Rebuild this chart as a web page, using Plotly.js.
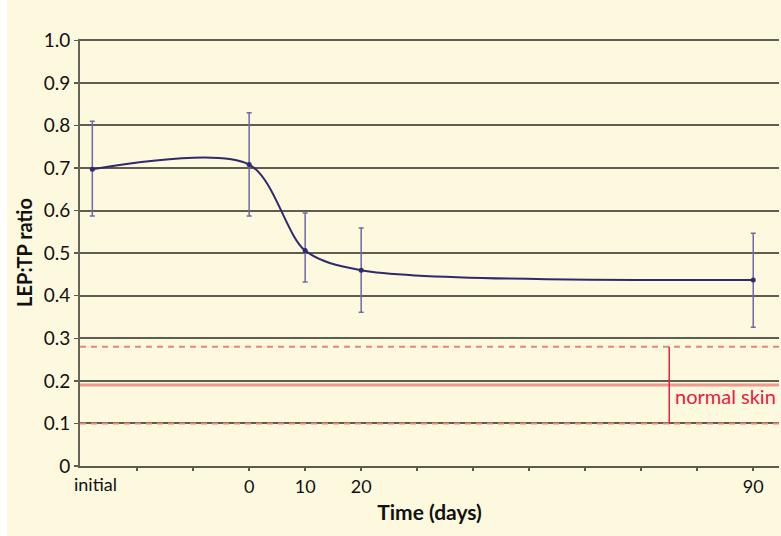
<!DOCTYPE html>
<html>
<head>
<meta charset="utf-8">
<script src="https://cdn.plot.ly/plotly-3.0.1.min.js"></script>
<style>
  html, body { margin: 0; padding: 0; background: #ffffff; }
  #chart { position: absolute; left: 7px; top: 0; width: 774px; height: 536px; }
</style>
</head>
<body>
<div id="chart"></div>
<script>
// Data
const days = [-28, 0, 10, 20, 90];           // "initial" plotted at the first position
const ratio = [0.697, 0.708, 0.506, 0.460, 0.437];
const errUpper = [0.810, 0.830, 0.594, 0.559, 0.547];
const errLower = [0.587, 0.587, 0.432, 0.361, 0.326];

const xTickVals = [-20, -10, 0, 10, 20, 30, 40, 50, 60, 70, 80, 90];
const xTickText = ['', '', '0', '10', '20', '', '', '', '', '', '', '90'];
const initialLabel = 'initial';
const initialPos = -27.5;

const yTickVals = [0, 0.1, 0.2, 0.3, 0.4, 0.5, 0.6, 0.7, 0.8, 0.9, 1.0];
const yTickText = ['0', '0.1', '0.2', '0.3', '0.4', '0.5', '0.6', '0.7', '0.8', '0.9', '1.0'];

const normalLow = 0.10, normalMean = 0.19, normalHigh = 0.28;
const normalMarkerDay = 75;
const normalLabel = 'normal skin';

const plus = ratio.map((v, i) => errUpper[i] - v);
const minus = ratio.map((v, i) => v - errLower[i]);

const trace = {
  x: days, y: ratio, type: 'scatter', mode: 'lines+markers',
  line: { color: '#2f2a6e', width: 2, shape: 'spline', smoothing: 0.85 },
  marker: { color: '#2f2a6e', size: 5 },
  error_y: { type: 'data', symmetric: false, array: plus, arrayminus: minus,
             color: '#6f69a8', thickness: 1.5, width: 2.5 },
  hoverinfo: 'skip', showlegend: false
};

const red = '#e8203f';
const shapes = [
  { type: 'line', xref: 'paper', x0: 0, x1: 1, yref: 'y', y0: normalHigh, y1: normalHigh,
    line: { color: '#e8867a', width: 2, dash: '6px,5px' }, layer: 'above' },
  { type: 'line', xref: 'paper', x0: 0, x1: 1, yref: 'y', y0: normalMean, y1: normalMean,
    line: { color: '#ef9a8c', width: 3 }, layer: 'above' },
  { type: 'line', xref: 'paper', x0: 0, x1: 1, yref: 'y', y0: normalLow, y1: normalLow,
    line: { color: '#e8867a', width: 2, dash: '6px,5px' }, layer: 'above' },
  { type: 'line', xref: 'x', x0: normalMarkerDay, x1: normalMarkerDay, yref: 'y', y0: normalLow, y1: normalHigh,
    line: { color: red, width: 1.5 }, layer: 'above' }
];

const annotations = [
  { x: normalMarkerDay + 0.6, y: (normalLow + normalHigh) / 2 - 0.026, xref: 'x', yref: 'y',
    text: normalLabel, showarrow: false, xanchor: 'left', yanchor: 'middle',
    font: { family: 'Lato, sans-serif', size: 20, color: red } },
  { x: initialPos, y: 0, xref: 'x', yref: 'y', yshift: -5,
    text: initialLabel, showarrow: false, xanchor: 'center', yanchor: 'top',
    font: { family: 'Lato, sans-serif', size: 18, color: '#111' } }
];

const layout = {
  width: 774, height: 536,
  paper_bgcolor: '#fdf9de', plot_bgcolor: '#fdf9de',
  margin: { l: 73, r: 2, t: 39, b: 70 },
  font: { family: 'Lato, sans-serif', color: '#111' },
  xaxis: {
    range: [-30.2, 94.6], tickvals: xTickVals, ticktext: xTickText,
    showgrid: false, zeroline: false, showline: true, linecolor: '#5c5b4c', linewidth: 2,
    ticks: 'outside', ticklen: 3, tickcolor: '#5c5b4c', tickwidth: 1.5,
    tickfont: { size: 18, color: '#111' },
    title: { text: '<b>Time (days)</b>', font: { size: 21, color: '#111' }, standoff: 10 }
  },
  yaxis: {
    range: [0, 1.003], tickvals: yTickVals, ticktext: yTickText,
    showgrid: true, gridcolor: '#5e5d4f', gridwidth: 2, zeroline: false,
    showline: true, linecolor: '#66655a', linewidth: 2,
    ticks: 'outside', ticklen: 4, tickcolor: '#5c5b4c', tickwidth: 1.5,
    tickfont: { size: 19, color: '#111' },
    title: { text: '<b>LEP:TP ratio</b>', font: { size: 20, color: '#111' }, standoff: 6 }
  },
  shapes: shapes,
  annotations: annotations
};

Plotly.newPlot('chart', [trace], layout, { displayModeBar: false, staticPlot: true });
</script>
</body>
</html>
